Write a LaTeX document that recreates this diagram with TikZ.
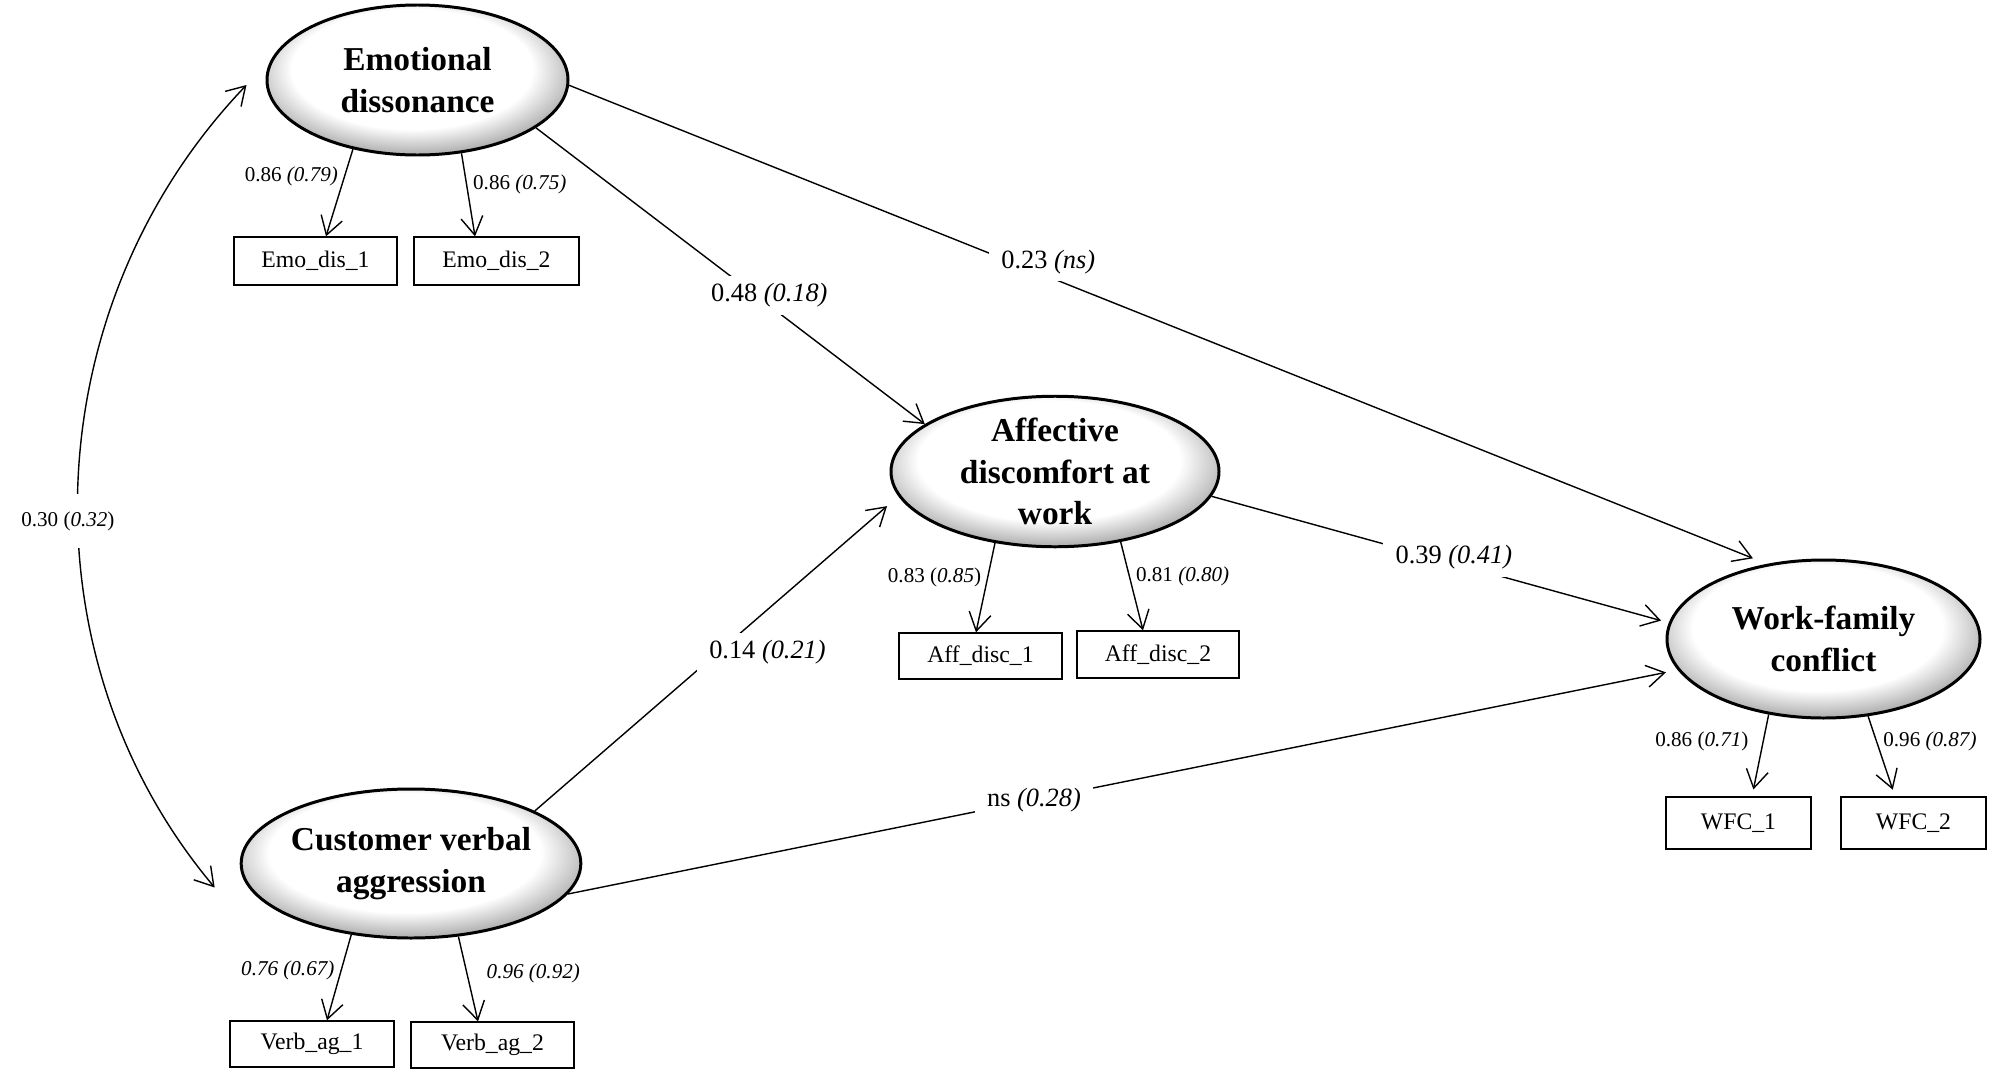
\documentclass[tikz,border=0pt]{standalone}
\usepackage{fontspec}
\setmainfont{Liberation Serif}
\usepackage{tikz}
\usetikzlibrary{shapes.geometric,arrows.meta}
\pgfdeclareradialshading{ovalshade}{\pgfpoint{-1.5bp}{6bp}}{color(0bp)=(white); color(20bp)=(white); color(30bp)=(black!42); color(50bp)=(black!42)}

\begin{document}
\begin{tikzpicture}[x=0.2mm, y=-0.2mm,
        latent/.style={ellipse, draw, line width=1.7pt, shade, shading=ovalshade, inner sep=0pt, align=center, font=\fontsize{19}{23.5}\selectfont\bfseries},
        item/.style={draw, line width=0.75pt, inner sep=0pt, font=\fontsize{13.5}{16}\selectfont},
        effect/.style={line width=0.8pt, shorten >=2mm, -{Straight Barb[length=3.6mm,width=4.4mm]}},
        loading/.style={line width=0.8pt, -{Straight Barb[length=3.6mm,width=4.4mm]}},
        cov/.style={line width=0.8pt, {Straight Barb[length=3.6mm,width=4.4mm]}-{Straight Barb[length=3.6mm,width=4.4mm]}},
        coef/.style={fill=white, inner xsep=2.5mm, inner ysep=1.5mm, font=\fontsize{15}{18}\selectfont},
        ld/.style={inner sep=1.2mm, font=\fontsize{12}{14}\selectfont}]
        \path[use as bounding box, fill=white] (0,0) rectangle (2008,1075);

        \node[latent, minimum width=60.2mm, minimum height=30mm] (ed) at (417.5,80) {Emotional\\dissonance};
        \node[latent, minimum width=65.6mm, minimum height=29.4mm] (ad) at (1055,471.5) {Affective\\discomfort at\\work};
        \node[latent, minimum width=62.6mm, minimum height=31.6mm] (wfc) at (1823.5,639) {Work-family\\conflict};
        \node[latent, minimum width=65.6mm, minimum height=29.8mm] (cva) at (411,863.5) {Customer verbal\\aggression};

        \node[item, minimum width=32.6mm, minimum height=9.6mm] (e1) at (315.5,261) {Emo\_dis\_1};
        \node[item, minimum width=33mm, minimum height=9.6mm] (e2) at (496.5,261) {Emo\_dis\_2};
        \node[item, minimum width=32.6mm, minimum height=9.2mm] (a1) at (980.5,656) {Aff\_disc\_1};
        \node[item, minimum width=32.4mm, minimum height=9.4mm] (a2) at (1158,654.5) {Aff\_disc\_2};
        \node[item, minimum width=29mm, minimum height=10.4mm] (w1) at (1738.5,823) {WFC\_1};
        \node[item, minimum width=29mm, minimum height=10.4mm] (w2) at (1913.5,823) {WFC\_2};
        \node[item, minimum width=32.8mm, minimum height=9.2mm] (v1) at (312,1044) {Verb\_ag\_1};
        \node[item, minimum width=32.6mm, minimum height=9.2mm] (v2) at (492.5,1045) {Verb\_ag\_2};

        \draw[loading] (ed.-133) -- node[ld, pos=.31, anchor=east] {0.86 \textit{(0.79)}} ([xshift=2.1mm]e1.north);
        \draw[loading] (ed.-59) -- node[ld, pos=.37, anchor=west] {0.86 \textit{(0.75)}} ([xshift=-4.3mm]e2.north);
        \draw[loading] (ad.-130) -- node[ld, pos=.38, anchor=east] {0.83 (\textit{0.85})} ([xshift=-0.9mm]a1.north);
        \draw[loading] (ad.-47) -- node[ld, pos=.39, anchor=west] {0.81 \textit{(0.80)}} ([xshift=-3mm]a2.north);
        \draw[loading, shorten >=1.4mm] (wfc.-126) -- node[ld, pos=.33, anchor=east, xshift=-1.6mm] {0.86 (\textit{0.71})} ([xshift=2.7mm]w1.north);
        \draw[loading, shorten >=1.4mm] (wfc.-60) -- node[ld, pos=.32, anchor=west] {0.96 \textit{(0.87)}} ([xshift=-3.7mm]w2.north);
        \draw[loading] (cva.-130) -- node[ld, pos=.42, anchor=east] {\textit{0.76 (0.67)}} ([xshift=3mm]v1.north);
        \draw[loading] (cva.-57) -- node[ld, pos=.44, anchor=west, xshift=2.6mm] {\textit{0.96 (0.92)}} ([xshift=-2.9mm]v2.north);

        \draw[effect, shorten >=0pt] (ed.-22) -- node[coef, pos=.6, yshift=2mm] {0.48 \textit{(0.18)}} (ad.160);
        \draw[effect, shorten >=3mm] (ed.-2) -- node[coef, pos=.4, yshift=3mm] {0.23 \textit{(ns)}} (wfc.127);
        \draw[effect, shorten >=3mm] (cva.23) -- node[coef, pos=.64, yshift=-8.6mm] {0.14 \textit{(0.21)}} (ad.189);
        \draw[effect, shorten >=1.6mm] (ad.-9) -- node[coef, pos=.53, yshift=1.2mm] {0.39 \textit{(0.41)}} (wfc.174);
        \draw[effect, shorten >=2.4mm] (cva.-11) -- node[coef, pos=.42] {ns \textit{(0.28)}} (wfc.192);

        \draw[cov] ([shift={(-19,5)}]ed.west) .. controls (35,306) and (20,656) .. node[coef, pos=.545, xshift=-2mm, inner ysep=3.5mm, font=\fontsize{12}{14}\selectfont] {0.30 (\textit{0.32})} ([shift={(-25,24)}]cva.west);
    \end{tikzpicture}
\end{document}
